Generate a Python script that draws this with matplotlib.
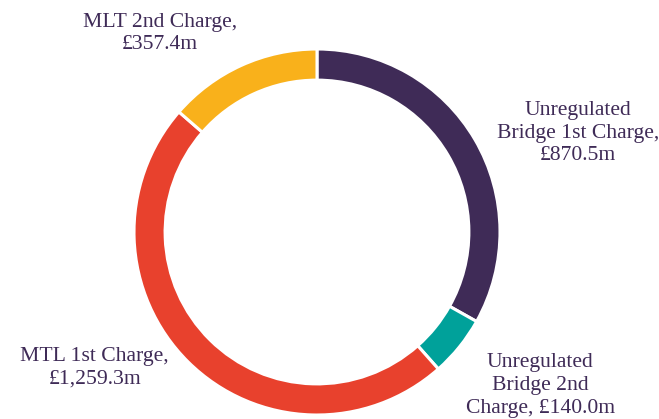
import matplotlib
matplotlib.use("Agg")
import matplotlib.pyplot as plt

# 데이터
labels = ["Unregulated\nBridge 1st Charge,\n£870.5m",
          "Unregulated\nBridge 2nd\nCharge, £140.0m",
          "MTL 1st Charge,\n£1,259.3m",
          "MLT 2nd Charge,\n£357.4m"]
values = [870.5, 140.0, 1259.3, 357.4]
colors = ["#3f2b57", "#00a19a", "#e8412d", "#f9b11b"]

label_pos = [(1.425, 0.54), (1.22, -0.84), (-1.215, -0.74), (-0.86, 1.085)]

fig = plt.figure(figsize=(6.59, 4.19), dpi=100)
# 픽셀 기준: 중심 (317, 232), 반지름 183
r_px = 183
ax = fig.add_axes([(317 - r_px) / 659, (419 - 232 - r_px) / 419, 2 * r_px / 659, 2 * r_px / 419])
ax.pie(values, colors=colors, startangle=90, counterclock=False, radius=1,
       wedgeprops=dict(width=0.17, edgecolor="white", linewidth=2.2))
ax.set_xlim(-1, 1)
ax.set_ylim(-1, 1)
ax.set_aspect("equal")
ax.axis("off")

for lab, (x, y) in zip(labels, label_pos):
    ax.text(x, y, lab, ha="center", va="center", fontsize=15.6,
            family="Liberation Serif", color="#3f2b57", linespacing=1.27,
            clip_on=False)

fig.savefig("out.png", dpi=100)
